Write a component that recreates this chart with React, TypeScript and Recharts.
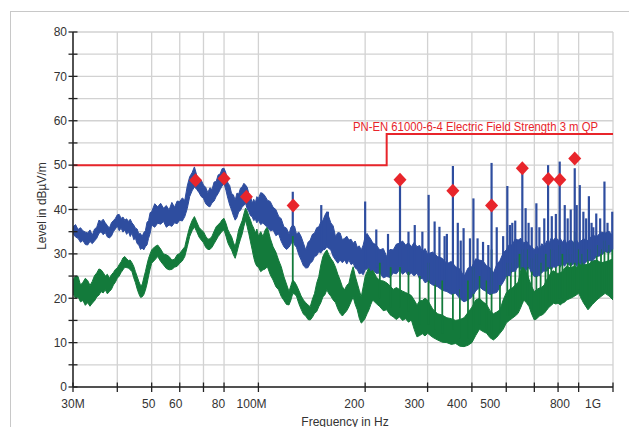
import {
  ComposedChart,
  Area,
  Line,
  Scatter,
  XAxis,
  YAxis,
  CartesianGrid,
  ReferenceLine,
} from "recharts";

// [frequency MHz, low, high] of the noise band, dBµV/m
const blueBand = [
  [30, 34.6, 36.1], [30.5, 33.8, 36.6], [31, 33.5, 35.5], [31.5, 32.6, 35.9], [32, 33.0, 35.2],
  [32.5, 32.1, 34.9], [33, 32.0, 34.7], [33.5, 32.8, 35.4], [34, 32.3, 34.2], [34.5, 32.9, 35.6],
  [35, 33.5, 36.0], [35.5, 34.6, 37.6], [36, 35.0, 37.3], [36.5, 34.3, 37.8], [37, 34.8, 37.0],
  [37.5, 33.8, 36.4], [38, 33.6, 35.8], [38.5, 34.0, 37.0], [39, 35.0, 37.5], [39.5, 35.6, 38.0],
  [40, 36.3, 38.8], [40.5, 35.2, 38.9], [41, 35.8, 38.0], [41.5, 34.9, 38.3], [42, 35.4, 37.6],
  [42.5, 34.4, 37.9], [43, 35.0, 37.3], [43.5, 33.9, 37.8], [44, 34.7, 37.0], [44.5, 33.2, 36.5],
  [45, 33.5, 35.8], [45.5, 32.3, 35.6], [46, 32.0, 34.5], [46.5, 31.0, 34.6], [47, 31.3, 33.9],
  [47.5, 30.9, 34.8], [48, 31.6, 35.2], [48.5, 32.0, 37.1], [49, 33.5, 37.5], [49.5, 34.6, 39.3],
  [50, 36.5, 39.5], [51, 36.0, 41.3], [52, 36.9, 40.6], [53, 36.7, 41.4], [54, 37.3, 40.3],
  [55, 36.0, 40.9], [56, 36.5, 39.9], [57, 36.2, 41.6], [58, 37.0, 40.5], [59, 36.8, 41.9],
  [60, 37.6, 41.8], [61, 37.4, 42.6], [62, 38.4, 42.1], [63, 40.2, 45.3], [64, 42.9, 47.4],
  [65, 44.2, 48.3], [66, 45.1, 49.6], [67, 44.5, 47.7], [68, 43.8, 46.8], [69, 42.9, 46.6],
  [70, 42.5, 45.5], [71, 41.3, 45.0], [72, 40.8, 43.8], [73, 40.6, 44.9], [74, 41.5, 44.5],
  [75, 41.9, 46.2], [76, 42.9, 46.3], [77, 43.6, 47.8], [78, 44.5, 48.0], [79, 45.3, 49.2],
  [80, 45.9, 49.3], [81, 44.3, 48.2], [82, 42.5, 46.0], [83, 41.0, 45.4], [84, 39.9, 43.6],
  [85, 38.6, 43.3], [86, 37.6, 42.1], [87, 38.2, 43.7], [88, 39.5, 43.5], [89, 39.8, 44.8],
  [90, 40.6, 45.1], [91, 40.9, 45.9], [92, 41.4, 45.5], [93, 40.1, 45.0], [94, 39.5, 43.5],
  [95, 38.6, 43.1], [96, 38.4, 41.4], [97, 37.5, 42.3], [98, 37.8, 41.5], [99, 37.0, 42.9],
  [100, 37.6, 42.5], [101.5, 36.6, 43.8], [103, 37.0, 43.6], [104.5, 36.4, 43.0], [106, 36.1, 42.1],
  [108, 35.2, 41.8], [110, 35.4, 40.5], [112, 34.1, 40.0], [114, 34.5, 38.5], [116, 32.8, 37.9],
  [118, 31.6, 36.1], [120, 31.0, 35.8], [122, 31.5, 34.5], [123.5, 32.2, 36.0], [125, 33.1, 36.5],
  [126.5, 32.0, 36.2], [128, 31.5, 34.5], [130, 29.8, 34.9], [132, 28.6, 33.9], [134, 27.3, 32.4],
  [136, 26.8, 30.9], [138, 26.9, 32.6], [140, 27.9, 33.1], [142, 28.3, 34.4], [144, 29.4, 34.7],
  [146, 29.6, 35.9], [148, 30.5, 36.1], [150, 30.2, 37.2], [152, 30.9, 37.5], [154, 31.0, 38.7],
  [156, 31.6, 39.5], [158, 31.2, 38.3], [160, 30.9, 37.0], [162.5, 29.4, 36.3], [165, 28.6, 33.9],
  [167.5, 27.9, 34.8], [170, 28.6, 34.7], [172.5, 28.0, 33.2], [175, 28.6, 33.5], [177.5, 27.7, 34.0],
  [180, 28.6, 33.1], [182.5, 27.6, 33.3], [185, 27.9, 32.4], [187.5, 26.8, 32.9], [190, 26.5, 31.5],
  [192.5, 25.5, 31.8], [195, 25.7, 30.9], [197.5, 25.3, 32.0], [200, 26.4, 33.9], [202.5, 26.6, 34.6],
  [205, 27.1, 33.9], [207.5, 26.2, 33.3], [210, 26.5, 32.5], [215, 25.6, 32.0], [220, 25.7, 30.9],
  [225, 24.6, 31.2], [230, 24.9, 29.4], [235, 24.7, 31.0], [240, 25.7, 30.9], [245, 25.5, 32.2],
  [250, 26.4, 32.4], [255, 25.4, 32.9], [260, 26.0, 32.0], [265, 25.1, 32.5], [270, 25.7, 31.6],
  [275, 25.0, 32.6], [280, 25.7, 31.6], [285, 24.3, 31.9], [290, 24.5, 30.5], [295, 23.5, 31.2],
  [300, 23.8, 30.0], [310, 23.0, 30.4], [320, 22.6, 29.4], [330, 21.8, 29.0], [340, 21.5, 27.8],
  [350, 20.9, 28.3], [360, 21.1, 27.1], [370, 19.9, 26.6], [380, 19.2, 24.9], [390, 19.6, 26.8],
  [400, 20.3, 27.1], [410, 21.6, 28.9], [420, 22.6, 28.6], [430, 21.9, 28.4], [440, 21.5, 27.3],
  [450, 20.8, 26.9], [460, 21.1, 25.7], [470, 21.3, 27.6], [480, 22.5, 28.5], [490, 23.6, 30.2],
  [500, 24.9, 30.9], [510, 25.2, 32.1], [520, 26.0, 32.0], [530, 26.2, 33.4], [540, 27.1, 33.1],
  [550, 26.5, 33.5], [560, 27.1, 32.4], [570, 26.3, 32.9], [580, 27.0, 32.0], [590, 25.5, 31.6],
  [600, 24.9, 30.9], [610, 24.8, 31.8], [620, 25.5, 31.0], [630, 25.7, 32.3], [640, 26.4, 31.6],
  [650, 26.1, 32.9], [660, 26.8, 32.4], [670, 26.5, 33.6], [680, 27.1, 33.1], [690, 26.9, 33.8],
  [700, 27.5, 33.0], [710, 27.0, 33.5], [720, 27.9, 32.6], [730, 27.2, 33.3], [740, 27.9, 32.4],
  [760, 27.3, 33.2], [780, 27.9, 32.4], [790, 27.2, 33.1], [800, 27.9, 32.4], [825, 27.6, 33.4],
  [850, 28.5, 33.0], [875, 28.4, 34.2], [900, 29.4, 33.9], [925, 29.6, 34.9], [950, 30.5, 34.7],
  [975, 30.2, 35.1], [1000, 30.9, 33.9],
];

const greenBand = [
  [30, 21.1, 24.1], [30.5, 20.0, 25.0], [31, 20.3, 24.9], [31.5, 19.2, 23.0], [32, 19.5, 23.6],
  [32.5, 18.4, 24.5], [33, 19.0, 24.0], [33.5, 18.2, 22.9], [34, 18.9, 23.8], [34.5, 19.4, 25.1],
  [35, 20.3, 25.7], [35.5, 20.7, 26.6], [36, 21.5, 26.4], [36.5, 21.2, 25.8], [37, 21.9, 25.0],
  [37.5, 21.0, 25.4], [38, 21.5, 24.5], [38.5, 22.0, 25.3], [39, 23.0, 25.8], [39.5, 23.6, 26.5],
  [40, 24.5, 26.8], [40.5, 25.0, 27.6], [41, 25.8, 28.2], [41.5, 26.4, 29.1], [42, 27.0, 29.4],
  [42.5, 26.9, 28.9], [43, 26.8, 28.5], [43.5, 26.4, 28.6], [44, 26.0, 28.0], [44.5, 24.6, 27.2],
  [45, 23.5, 26.0], [45.5, 22.1, 24.9], [46, 21.0, 23.8], [46.5, 20.2, 22.9], [47, 20.3, 23.0],
  [47.5, 20.8, 24.6], [48, 21.8, 26.0], [48.5, 23.2, 27.6], [49, 25.0, 29.0], [49.5, 26.6, 30.0],
  [50, 27.9, 30.9], [51, 28.6, 31.6], [52, 29.4, 32.0], [53, 28.3, 31.1], [54, 27.5, 30.0],
  [55, 26.7, 29.8], [56, 26.4, 29.4], [57, 26.5, 28.6], [58, 27.0, 28.8], [59, 27.2, 29.8],
  [60, 27.9, 30.1], [61, 28.4, 30.9], [62, 29.4, 31.6], [63, 31.6, 34.0], [64, 33.9, 36.1],
  [65, 35.2, 37.5], [66, 36.1, 38.4], [67, 35.0, 37.2], [68, 33.8, 36.0], [69, 33.1, 35.4],
  [70, 32.5, 35.0], [71, 31.5, 34.0], [72, 31.0, 33.3], [73, 31.0, 33.4], [74, 31.5, 34.0],
  [75, 32.3, 35.1], [76, 33.1, 36.1], [77, 33.9, 36.6], [78, 34.5, 37.0], [79, 35.1, 37.7],
  [80, 35.4, 38.0], [81, 34.0, 36.9], [82, 32.5, 35.5], [83, 31.6, 34.6], [84, 30.9, 33.9],
  [85, 29.8, 32.6], [86, 29.0, 31.6], [87, 30.4, 33.5], [88, 32.0, 35.5], [89, 33.3, 36.5],
  [90, 34.5, 37.5], [91, 36.2, 39.0], [92, 37.6, 40.3], [93, 36.1, 39.6], [94, 34.5, 38.5],
  [95, 32.7, 37.6], [96, 31.0, 36.5], [97, 29.2, 35.8], [98, 27.9, 34.7], [99, 27.2, 35.6],
  [100, 27.0, 34.0], [101.5, 26.0, 35.0], [103, 26.4, 33.9], [104.5, 26.6, 35.4], [106, 27.1, 36.1],
  [108, 25.3, 33.5], [110, 24.1, 31.6], [112, 22.6, 30.4], [114, 21.9, 28.6], [116, 20.4, 27.1],
  [118, 19.5, 24.9], [120, 18.6, 23.2], [122, 18.5, 21.5], [123.5, 19.6, 22.9], [125, 21.1, 24.1],
  [126.5, 20.9, 23.7], [128, 20.5, 23.0], [130, 18.8, 21.8], [132, 17.5, 20.5], [134, 16.4, 19.6],
  [136, 16.0, 19.0], [138, 15.2, 18.5], [140, 15.1, 18.1], [142, 15.7, 19.8], [144, 16.6, 21.1],
  [146, 17.0, 23.4], [148, 18.1, 24.9], [150, 19.0, 27.5], [152, 20.3, 29.4], [154, 20.8, 30.3],
  [156, 21.9, 30.9], [158, 21.0, 29.8], [160, 20.5, 29.0], [162.5, 19.6, 28.2], [165, 19.0, 27.0],
  [167.5, 17.6, 25.4], [170, 16.6, 24.1], [172.5, 16.0, 22.6], [175, 16.6, 21.9], [177.5, 17.2, 22.9],
  [180, 18.1, 23.4], [182.5, 19.2, 25.6], [185, 20.3, 27.1], [187.5, 18.6, 25.0], [190, 17.4, 23.4],
  [192.5, 15.5, 21.8], [195, 14.4, 20.3], [197.5, 14.8, 22.6], [200, 15.5, 24.9], [202.5, 16.5, 26.0],
  [205, 17.4, 27.1], [207.5, 18.6, 26.4], [210, 19.6, 26.5], [215, 18.8, 24.8], [220, 18.1, 24.0],
  [225, 17.2, 23.9], [230, 17.4, 23.5], [235, 16.3, 22.8], [240, 15.8, 22.0], [245, 15.2, 22.4],
  [250, 15.8, 22.0], [255, 15.0, 21.6], [260, 15.4, 21.3], [265, 14.6, 21.0], [270, 15.1, 20.6],
  [275, 13.0, 19.6], [280, 11.3, 18.5], [285, 11.6, 19.4], [290, 12.0, 19.5], [295, 11.5, 20.0],
  [300, 12.1, 19.6], [310, 11.2, 17.6], [320, 10.6, 16.5], [330, 10.1, 16.2], [340, 10.0, 15.6],
  [350, 9.6, 15.4], [360, 9.8, 15.0], [370, 9.2, 15.2], [380, 9.1, 15.6], [390, 9.4, 16.8],
  [400, 10.0, 18.0], [410, 11.6, 19.6], [420, 13.0, 20.0], [430, 12.5, 19.2], [440, 12.1, 18.6],
  [450, 11.1, 17.2], [460, 10.6, 16.5], [470, 11.2, 16.9], [480, 12.1, 17.4], [490, 13.0, 19.6],
  [500, 14.4, 21.2], [510, 15.0, 22.0], [520, 15.5, 22.3], [530, 16.0, 23.0], [540, 16.6, 23.6],
  [550, 18.0, 26.4], [560, 19.6, 28.0], [570, 19.0, 26.0], [580, 18.1, 24.2], [590, 16.4, 22.6],
  [600, 15.1, 21.5], [610, 15.4, 22.0], [620, 16.0, 22.3], [630, 16.2, 22.5], [640, 16.6, 23.0],
  [650, 17.3, 24.2], [660, 18.0, 25.0], [670, 18.4, 25.9], [680, 18.9, 26.2], [690, 18.7, 25.7],
  [700, 18.9, 25.6], [710, 18.5, 25.8], [720, 18.9, 26.0], [730, 19.1, 26.8], [740, 19.6, 27.2],
  [760, 20.0, 26.8], [780, 20.5, 27.4], [790, 20.8, 27.0], [800, 21.1, 27.6], [825, 19.0, 27.8],
  [850, 17.4, 27.5], [875, 18.6, 28.4], [900, 19.6, 28.6], [925, 20.4, 28.0], [950, 21.1, 28.2],
  [975, 20.5, 28.5], [1000, 19.6, 28.9],
];

// [frequency, top, base] narrow carrier spikes
const blueSpikes = [
  [125, 44.0, 34], [150.4, 41.0, 31], [157, 39.5, 32], [200, 41.8, 27], [215, 35.5, 27],
  [232, 34.5, 26], [250.8, 46.6, 27], [265, 35.0, 26], [276, 36.5, 26], [290, 35.0, 25],
  [302, 43.3, 24], [314, 37.3, 23], [324, 36.1, 23], [335, 34.0, 22], [340, 34.5, 22],
  [353.6, 49.8, 21], [365, 37.0, 21], [372, 33.0, 20], [379, 35.8, 20], [395, 33.5, 20],
  [404, 42.5, 21], [415, 33.5, 22], [430, 32.7, 22], [445, 32.0, 21], [454.5, 50.5, 21],
  [470, 36.0, 22], [490, 34.0, 24], [503.5, 45.3, 25], [512, 36.5, 25], [520, 37.0, 26],
  [530, 37.5, 26], [555, 48.5, 27], [567, 40.3, 27], [578, 37.0, 27], [590, 36.0, 26],
  [608, 41.4, 25], [620, 36.0, 25], [640, 38.0, 26], [656, 50.0, 27], [672, 38.5, 27],
  [690, 39.0, 27], [707.5, 50.8, 27.5], [731, 41.0, 28], [745, 38.0, 28], [760, 40.0, 28],
  [780, 49.3, 28], [790, 41.0, 28], [806, 45.5, 28], [825, 39.5, 28], [840, 38.0, 28.5],
  [855, 43.0, 28.5], [870, 37.0, 28.5], [880, 36.0, 29], [897, 39.1, 29.5], [920, 38.0, 30],
  [946, 46.3, 30.5], [965, 37.0, 30.5], [995, 39.5, 31],
];

const greenSpikes = [
  [125, 34.6, 22], [220, 28, 20], [236, 27, 18], [250.8, 30, 18], [265, 26, 17],
  [285, 25, 14], [302, 28, 14], [315, 24, 13], [330, 24, 12], [353.6, 30, 13],
  [370, 22, 11], [390, 24, 11], [404, 27, 12], [420, 25, 14], [440, 24, 13],
  [454.5, 31, 12], [480, 23, 13], [503.5, 28, 16], [515, 28, 16], [530, 29, 17],
  [545, 30, 18], [555, 31, 19], [575, 31, 19], [590, 29, 17], [608, 30, 17],
  [625, 28, 17], [645, 30, 18], [656, 33, 19], [670, 31, 19], [690, 31, 19],
  [707.5, 32, 20], [720, 30, 20], [745, 31, 20], [760, 30, 21], [780, 35, 21],
  [800, 31, 22], [820, 30, 20], [850, 31, 19], [870, 31, 19], [900, 32, 20],
  [925, 31, 21], [946, 33, 22], [970, 32, 21], [995, 31, 20],
];

const markers = [
  [66.5, 46.6], [80, 47.0], [92.5, 42.9], [125.3, 40.9], [250.8, 46.7], [353.5, 44.2],
  [454.5, 40.9], [555, 49.3], [657, 46.9], [708, 46.7], [780, 51.5],
];

const limit = [
  [30, 50], [230, 50], [230, 57], [1000, 57],
];

const xTicks = [30, 40, 50, 60, 70, 80, 100, 200, 300, 400, 500, 600, 700, 800, 1000];
const xLabels: Record<number, string> = {
  30: "30M", 50: "50", 60: "60", 80: "80", 100: "100M", 200: "200",
  300: "300", 400: "400", 500: "500", 800: "800", 1000: "1G",
};
const yTicks = [0, 5, 10, 15, 20, 25, 30, 35, 40, 45, 50, 55, 60, 65, 70, 75, 80];

const BLUE = "#2e4d9f";
const GREEN = "#137a3b";
const RED = "#e8252b";
const FONT = "'Liberation Sans', Arial, sans-serif";

const blueData = blueBand.map(([f, lo, hi]) => ({ f, v: [lo, hi] }));
const greenData = greenBand.map(([f, lo, hi]) => ({ f, v: [lo, hi] }));
const markerData = markers.map(([f, v]) => ({ f, v }));
const limitData = limit.map(([f, v]) => ({ f, v }));

function XTick(props: any) {
  const { x, y, payload } = props;
  const label = xLabels[payload.value];
  return (
    <g>
      <line x1={x} y1={y - 4.5} x2={x} y2={y + 5} stroke="#222" strokeWidth={1.3} />
      {label && (
        <text x={73 + 0.963 * (x - 73)} y={y + 21} textAnchor="middle" fontSize={12} fill="#333" fontFamily={FONT}>
          {label}
        </text>
      )}
    </g>
  );
}

function YTick(props: any) {
  const { x, y, payload } = props;
  return (
    <g>
      <line x1={x - 4.5} y1={y} x2={x + 4.5} y2={y} stroke="#222" strokeWidth={1.3} />
      {payload.value % 10 === 0 && (
        <text x={x - 6} y={y + 4.3} textAnchor="end" fontSize={12} fill="#333" fontFamily={FONT}>
          {payload.value}
        </text>
      )}
    </g>
  );
}

function Diamond(props: any) {
  const { cx, cy } = props;
  return <path d={`M${cx},${cy - 7} L${cx + 6.5},${cy} L${cx},${cy + 7} L${cx - 6.5},${cy} Z`} fill={RED} />;
}

export default function App() {
  return (
    <div style={{ position: "fixed", left: 0, top: 0, width: 629, height: 427, overflow: "hidden", background: "#fff" }}>
      <div style={{ position: "absolute", left: 10, top: 11, width: 700, height: 500, border: "1px solid #c8c8c8" }} />
      <div style={{ position: "absolute", left: 0, top: 0 }}>
        <ComposedChart width={629} height={427} margin={{ top: 32, right: 16, bottom: 0, left: 0 }}>
          <CartesianGrid stroke="#d2d2d2" strokeWidth={1.3} />
          <XAxis
            dataKey="f"
            type="number"
            scale="log"
            domain={[30, 1000]}
            ticks={xTicks}
            allowDataOverflow
            height={40}
            tickSize={0}
            tickMargin={0}
            tick={<XTick />}
            stroke="#222"
            strokeWidth={1.5}
            interval={0}
            label={{
              content: (p: any) => {
                const vb = p.viewBox;
                return (
                  <text x={vb.x + vb.width / 2 + 2} y={425.5} textAnchor="middle" fontSize={12} fill="#333" fontFamily={FONT}>
                    Frequency in Hz
                  </text>
                );
              },
            }}
          />
          <YAxis
            type="number"
            domain={[0, 80]}
            ticks={yTicks}
            allowDataOverflow
            width={73}
            tickSize={0}
            tickMargin={0}
            tick={<YTick />}
            stroke="#222"
            strokeWidth={1.5}
            interval={0}
            label={{
              content: () => (
                <text x={45.5} y={206} transform="rotate(-90 45.5 206)" textAnchor="middle" fontSize={12} fill="#333" fontFamily={FONT}>
                  Level in dBµV/m
                </text>
              ),
            }}
          />
          <Area data={greenData} dataKey="v" type="linear" stroke={GREEN} strokeWidth={1} fill={GREEN} fillOpacity={1} dot={false} activeDot={false} isAnimationActive={false} />
          {greenSpikes.map(([f, top, base], i) => (
            <ReferenceLine key={"g" + i} segment={[{ x: f, y: base }, { x: f, y: top }]} stroke={GREEN} strokeWidth={1.8} strokeOpacity={1} />
          ))}
          <Area data={blueData} dataKey="v" type="linear" stroke={BLUE} strokeWidth={1} fill={BLUE} fillOpacity={1} dot={false} activeDot={false} isAnimationActive={false} />
          {blueSpikes.map(([f, top, base], i) => (
            <ReferenceLine key={"b" + i} segment={[{ x: f, y: base }, { x: f, y: top }]} stroke={BLUE} strokeWidth={2.2} strokeOpacity={1} />
          ))}
          <Line data={limitData} dataKey="v" type="linear" stroke={RED} strokeWidth={2} dot={false} activeDot={false} isAnimationActive={false} />
          <ReferenceLine
            y={57}
            stroke="none"
            label={(p: any) => {
              const vb = p.viewBox;
              return (
                <text x={vb.x + vb.width - 15} y={vb.y - 3} textAnchor="end" fontSize={12} fill={RED} fontFamily={FONT} textLength={245} lengthAdjust="spacingAndGlyphs">
                  PN-EN 61000-6-4 Electric Field Strength 3 m QP
                </text>
              );
            }}
          />
          <Scatter data={markerData} dataKey="v" shape={<Diamond />} isAnimationActive={false} />
        </ComposedChart>
      </div>
    </div>
  );
}
